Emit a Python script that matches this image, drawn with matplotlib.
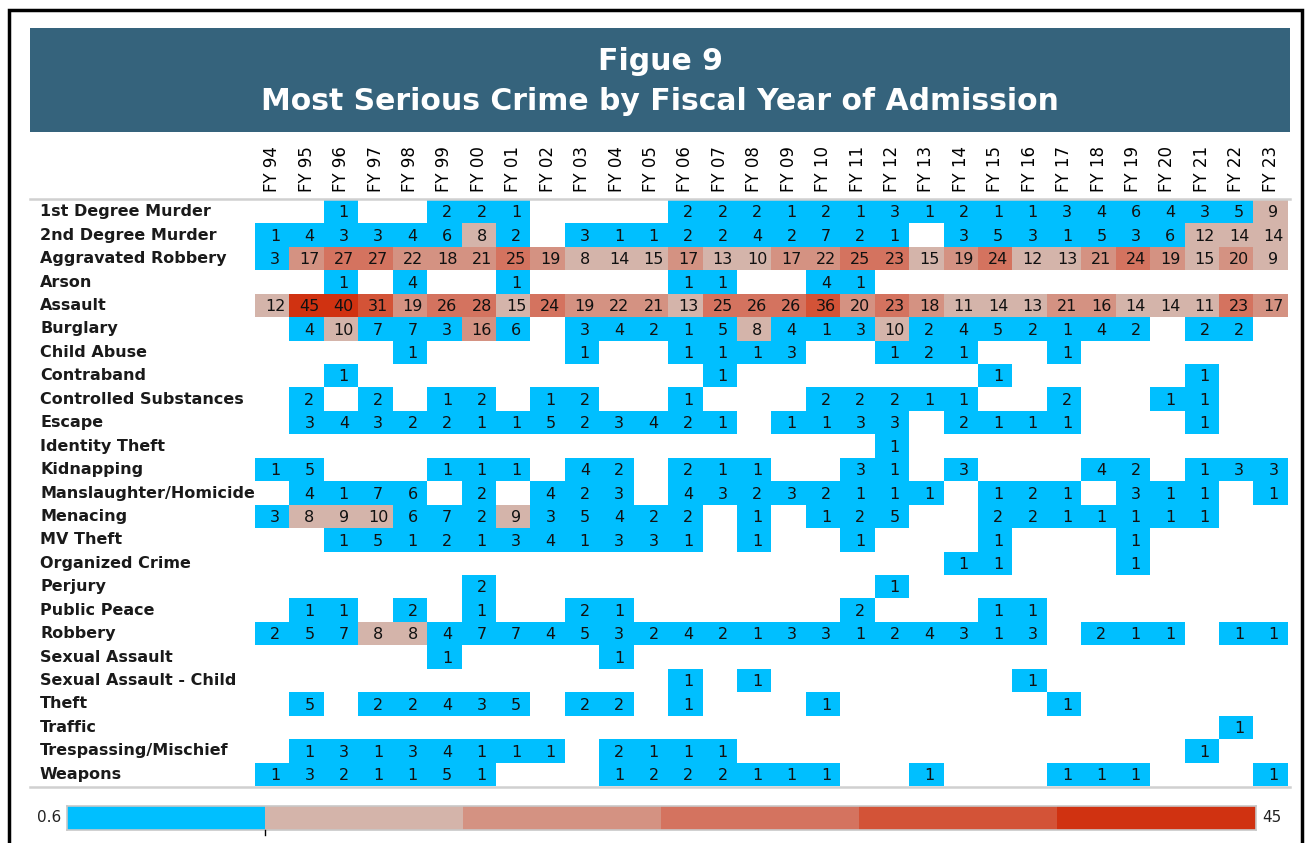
import numpy as np
import matplotlib
matplotlib.use('Agg')
import matplotlib.pyplot as plt
from matplotlib.colors import ListedColormap, BoundaryNorm
from matplotlib.patches import Rectangle
from matplotlib.lines import Line2D
import matplotlib.transforms as mtransforms

# Column labels (fiscal year of admission)
years = ['FY 94', 'FY 95', 'FY 96', 'FY 97', 'FY 98', 'FY 99', 'FY 00', 'FY 01', 'FY 02', 'FY 03',
         'FY 04', 'FY 05', 'FY 06', 'FY 07', 'FY 08', 'FY 09', 'FY 10', 'FY 11', 'FY 12', 'FY 13',
         'FY 14', 'FY 15', 'FY 16', 'FY 17', 'FY 18', 'FY 19', 'FY 20', 'FY 21', 'FY 22', 'FY 23']

crimes = ['1st Degree Murder', '2nd Degree Murder', 'Aggravated Robbery', 'Arson', 'Assault',
          'Burglary', 'Child Abuse', 'Contraband', 'Controlled Substances', 'Escape',
          'Identity Theft', 'Kidnapping', 'Manslaughter/Homicide', 'Menacing', 'MV Theft',
          'Organized Crime', 'Perjury', 'Public Peace', 'Robbery', 'Sexual Assault',
          'Sexual Assault - Child', 'Theft', 'Traffic', 'Trespassing/Mischief', 'Weapons']

# admissions per crime, FY94..FY23 (0 = no admissions, cell left blank)
murder_1st = [0, 0, 1, 0, 0, 2, 2, 1, 0, 0, 0, 0, 2, 2, 2, 1, 2, 1, 3, 1, 2, 1, 1, 3, 4, 6, 4, 3, 5, 9]
murder_2nd = [1, 4, 3, 3, 4, 6, 8, 2, 0, 3, 1, 1, 2, 2, 4, 2, 7, 2, 1, 0, 3, 5, 3, 1, 5, 3, 6, 12, 14, 14]
agg_robbery = [3, 17, 27, 27, 22, 18, 21, 25, 19, 8, 14, 15, 17, 13, 10, 17, 22, 25, 23, 15,
               19, 24, 12, 13, 21, 24, 19, 15, 20, 9]
arson = [0, 0, 1, 0, 4, 0, 0, 1, 0, 0, 0, 0, 1, 1, 0, 0, 4, 1, 0, 0, 0, 0, 0, 0, 0, 0, 0, 0, 0, 0]
assault = [12, 45, 40, 31, 19, 26, 28, 15, 24, 19, 22, 21, 13, 25, 26, 26, 36, 20, 23, 18,
           11, 14, 13, 21, 16, 14, 14, 11, 23, 17]
burglary = [0, 4, 10, 7, 7, 3, 16, 6, 0, 3, 4, 2, 1, 5, 8, 4, 1, 3, 10, 2, 4, 5, 2, 1, 4, 2, 0, 2, 2, 0]
child_abuse = [0, 0, 0, 0, 1, 0, 0, 0, 0, 1, 0, 0, 1, 1, 1, 3, 0, 0, 1, 2, 1, 0, 0, 1, 0, 0, 0, 0, 0, 0]
contraband = [0, 0, 1, 0, 0, 0, 0, 0, 0, 0, 0, 0, 0, 1, 0, 0, 0, 0, 0, 0, 0, 1, 0, 0, 0, 0, 0, 1, 0, 0]
controlled = [0, 2, 0, 2, 0, 1, 2, 0, 1, 2, 0, 0, 1, 0, 0, 0, 2, 2, 2, 1, 1, 0, 0, 2, 0, 0, 1, 1, 0, 0]
escape = [0, 3, 4, 3, 2, 2, 1, 1, 5, 2, 3, 4, 2, 1, 0, 1, 1, 3, 3, 0, 2, 1, 1, 1, 0, 0, 0, 1, 0, 0]
identity_theft = [0, 0, 0, 0, 0, 0, 0, 0, 0, 0, 0, 0, 0, 0, 0, 0, 0, 0, 1, 0, 0, 0, 0, 0, 0, 0, 0, 0, 0, 0]
kidnapping = [1, 5, 0, 0, 0, 1, 1, 1, 0, 4, 2, 0, 2, 1, 1, 0, 0, 3, 1, 0, 3, 0, 0, 0, 4, 2, 0, 1, 3, 3]
manslaughter = [0, 4, 1, 7, 6, 0, 2, 0, 4, 2, 3, 0, 4, 3, 2, 3, 2, 1, 1, 1, 0, 1, 2, 1, 0, 3, 1, 1, 0, 1]
menacing = [3, 8, 9, 10, 6, 7, 2, 9, 3, 5, 4, 2, 2, 0, 1, 0, 1, 2, 5, 0, 0, 2, 2, 1, 1, 1, 1, 1, 0, 0]
mv_theft = [0, 0, 1, 5, 1, 2, 1, 3, 4, 1, 3, 3, 1, 0, 1, 0, 0, 1, 0, 0, 0, 1, 0, 0, 0, 1, 0, 0, 0, 0]
organized = [0, 0, 0, 0, 0, 0, 0, 0, 0, 0, 0, 0, 0, 0, 0, 0, 0, 0, 0, 0, 1, 1, 0, 0, 0, 1, 0, 0, 0, 0]
perjury = [0, 0, 0, 0, 0, 0, 2, 0, 0, 0, 0, 0, 0, 0, 0, 0, 0, 0, 1, 0, 0, 0, 0, 0, 0, 0, 0, 0, 0, 0]
public_peace = [0, 1, 1, 0, 2, 0, 1, 0, 0, 2, 1, 0, 0, 0, 0, 0, 0, 2, 0, 0, 0, 1, 1, 0, 0, 0, 0, 0, 0, 0]
robbery = [2, 5, 7, 8, 8, 4, 7, 7, 4, 5, 3, 2, 4, 2, 1, 3, 3, 1, 2, 4, 3, 1, 3, 0, 2, 1, 1, 0, 1, 1]
sex_assault = [0, 0, 0, 0, 0, 1, 0, 0, 0, 0, 1, 0, 0, 0, 0, 0, 0, 0, 0, 0, 0, 0, 0, 0, 0, 0, 0, 0, 0, 0]
sex_assault_child = [0, 0, 0, 0, 0, 0, 0, 0, 0, 0, 0, 0, 1, 0, 1, 0, 0, 0, 0, 0, 0, 0, 1, 0, 0, 0, 0, 0, 0, 0]
theft = [0, 5, 0, 2, 2, 4, 3, 5, 0, 2, 2, 0, 1, 0, 0, 0, 1, 0, 0, 0, 0, 0, 0, 1, 0, 0, 0, 0, 0, 0]
traffic = [0, 0, 0, 0, 0, 0, 0, 0, 0, 0, 0, 0, 0, 0, 0, 0, 0, 0, 0, 0, 0, 0, 0, 0, 0, 0, 0, 0, 1, 0]
trespassing = [0, 1, 3, 1, 3, 4, 1, 1, 1, 0, 2, 1, 1, 1, 0, 0, 0, 0, 0, 0, 0, 0, 0, 0, 0, 0, 0, 1, 0, 0]
weapons = [1, 3, 2, 1, 1, 5, 1, 0, 0, 0, 1, 2, 2, 2, 1, 1, 1, 0, 0, 1, 0, 0, 0, 1, 1, 1, 0, 0, 0, 1]

counts = [murder_1st, murder_2nd, agg_robbery, arson, assault, burglary, child_abuse, contraband,
          controlled, escape, identity_theft, kidnapping, manslaughter, menacing, mv_theft,
          organized, perjury, public_peace, robbery, sex_assault, sex_assault_child, theft,
          traffic, trespassing, weapons]

# Binned colour scale 0.6 .. 45, six equal steps
scale_min, scale_max = 0.6, 45
bin_colors = ['#00BFFF', '#D4B4AA', '#D49282', '#D4735F', '#D35337', '#D03211']
cmap = ListedColormap(bin_colors)
norm = BoundaryNorm(np.linspace(scale_min, scale_max, len(bin_colors) + 1), cmap.N)

W, H = 1313, 843
fig = plt.figure(figsize=(W / 100, H / 100), dpi=100)
fig.patch.set_facecolor('white')

def fx(px):
    return px / W

def fy(py):
    return 1 - py / H

# Outer frame
fig.add_artist(Rectangle((fx(9), -0.1), fx(1302) - fx(9), fy(10) + 0.1,
                         transform=fig.transFigure, fill=False, edgecolor='black', linewidth=2.5))

# Title banner
fig.add_artist(Rectangle((fx(30), fy(132)), fx(1290) - fx(30), fy(28) - fy(132),
                         transform=fig.transFigure, facecolor='#35637C', edgecolor='none'))
fig.text(fx(660), fy(62), 'Figue 9', color='white', fontsize=21.5, fontweight='bold',
         ha='center', va='center')
fig.text(fx(660), fy(101), 'Most Serious Crime by Fiscal Year of Admission', color='white',
         fontsize=21.5, fontweight='bold', ha='center', va='center')

# Heatmap
left, right, top, bottom = 255, 1288, 200, 786
ax = fig.add_axes([fx(left), fy(bottom), fx(right) - fx(left), fy(top) - fy(bottom)])
data = np.array(counts, dtype=float)
masked = np.ma.masked_where(data <= 0, data)
ax.imshow(masked, cmap=cmap, norm=norm, aspect='auto', interpolation='nearest',
          extent=(-0.5, len(years) - 0.5, len(crimes) - 0.5, -0.5))
ax.set_xlim(-0.5, len(years) - 0.5)
ax.set_ylim(len(crimes) - 0.5, -0.5)
ax.axis('off')

for i in range(len(crimes)):
    for j in range(len(years)):
        v = counts[i][j]
        if v > 0:
            ax.text(j + 0.08, i + 0.05, str(v), ha='center', va='center', fontsize=11.5, color='#111111')

# Column headers
trans_top = mtransforms.blended_transform_factory(ax.transData, ax.transAxes)
for j, lab in enumerate(years):
    ax.text(j, 1 + 8 / (bottom - top), lab, rotation=90, ha='center', va='bottom',
            fontsize=12, color='black', transform=trans_top, clip_on=False)

# Row labels
trans_left = mtransforms.blended_transform_factory(fig.transFigure, ax.transData)
for i, lab in enumerate(crimes):
    ax.text(fx(40), i, lab, ha='left', va='center', fontsize=11.5, fontweight='bold',
            color='#1a1a1a', transform=trans_left, clip_on=False)

# Separator lines
for yy in (top - 1, bottom + 1):
    fig.add_artist(Line2D([fx(30), fx(1290)], [fy(yy), fy(yy)], transform=fig.transFigure,
                          color='#d0d0d0', linewidth=1.8))

# Colour legend bar
cb_left, cb_right, cb_top, cb_bottom = 67, 1256, 806, 830
cax = fig.add_axes([fx(cb_left), fy(cb_bottom), fx(cb_right) - fx(cb_left), fy(cb_top) - fy(cb_bottom)])
cax.imshow([np.arange(len(bin_colors))], cmap=ListedColormap(bin_colors), aspect='auto',
           interpolation='nearest')
cax.set_xticks([])
cax.set_yticks([])
for s in cax.spines.values():
    s.set_edgecolor('#c8c8c8')
    s.set_linewidth(1.2)
# small marker under the first step
fig.add_artist(Line2D([fx(265), fx(265)], [fy(830), fy(835)], transform=fig.transFigure,
                      color='black', linewidth=1))
fig.text(fx(61), fy(818), '0.6', ha='right', va='center', fontsize=11, color='#222222')
fig.text(fx(1262), fy(818), '45', ha='left', va='center', fontsize=11, color='#222222')

fig.savefig('out.png', dpi=100)
